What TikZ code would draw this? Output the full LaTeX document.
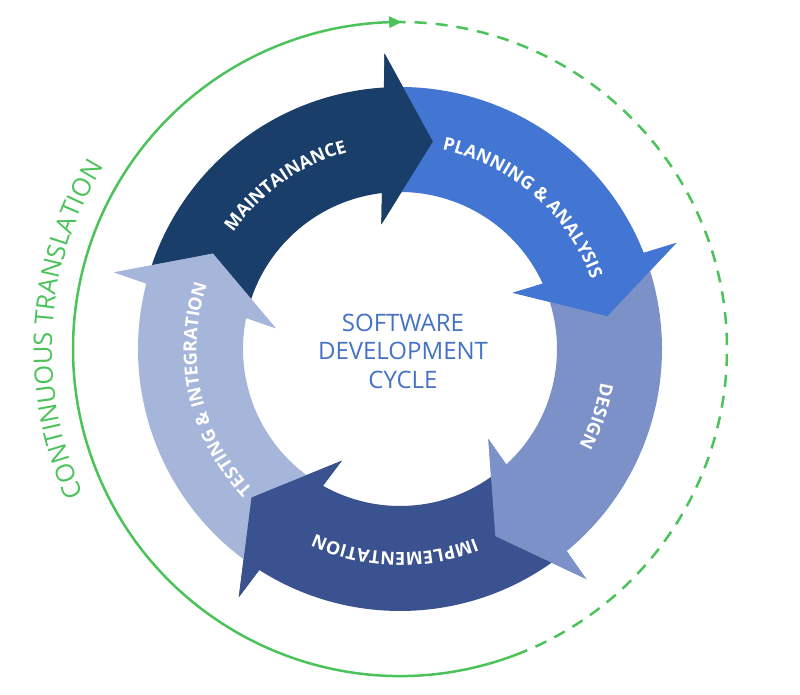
\documentclass[tikz,border=0pt]{standalone}
\usepackage{fontspec}
\setmainfont{Open Sans}
\usetikzlibrary{decorations.text}
\definecolor{cMaint}{HTML}{193E6A}
\definecolor{cPlan}{HTML}{4276D2}
\definecolor{cDesign}{HTML}{7B91C8}
\definecolor{cImpl}{HTML}{3A528F}
\definecolor{cTest}{HTML}{A6B5DA}
\definecolor{cCenter}{HTML}{4472C4}
\definecolor{cGreen}{HTML}{4CC35A}
% #1 = tip angle, #2 = colour
\newcommand{\cycArrow}[2]{%
  \fill[#2] ({#1+12}:296pt) -- (#1:210pt) -- ({#1+17.5}:126pt) -- ({#1+15.6}:157pt)
    arc[start angle={#1+15.6}, end angle={#1+82}, radius=157pt]
    -- ({#1+82}:262pt)
    arc[start angle={#1+82}, end angle={#1+12.5}, radius=262pt] -- cycle;}
\newcommand{\cycHead}[2]{%
  \fill[#2] ({#1+12}:296pt) -- (#1:210pt) -- ({#1+17.5}:126pt) -- cycle;}
% #1 = centre angle, #2 = text
\newcommand{\arcLabel}[2]{%
  \path[decorate, decoration={text along path, text align=center, text color=white,
    text={|\bfseries\fontsize{18pt}{18pt}\selectfont|#2}}]
    ({#1+70}:203.5pt) arc[start angle={#1+70}, end angle={#1-70}, radius=203.5pt];}
\begin{document}
\begin{tikzpicture}
\fill[white] (-400pt,-346pt) rectangle (400pt,349pt);
\useasboundingbox (-400pt,-346pt) rectangle (400pt,349pt);
\coordinate (O) at (0pt,0pt);
% outer green cycle
\draw[cGreen, line width=2.5pt] (291:327pt) arc[start angle=291, end angle=89, radius=327pt];
\draw[cGreen, line width=2.5pt, dash pattern=on 12pt off 9pt, dash phase=12pt]
  (89:327pt) arc[start angle=89, end angle=-69, radius=327pt];
\fill[cGreen] (89.7:327pt) -- (91.9:321pt) -- (91.9:333pt) -- cycle;
\path[decorate, decoration={text along path, text align=center, text color=cGreen,
  text={|\fontsize{25.5pt}{25.5pt}\selectfont|CONTINUOUS TRANSLATION}}]
  (246.5:348pt) arc[start angle=246.5, end angle=106.5, radius=348pt];
% arrows
\cycArrow{81}{cMaint}
\cycArrow{9}{cPlan}
\cycArrow{-63}{cDesign}
\cycArrow{-135}{cImpl}
\cycArrow{153}{cTest}
\cycHead{81}{cMaint}
\cycHead{9}{cPlan}
\cycHead{-63}{cDesign}
\cycHead{-135}{cImpl}
\cycHead{153}{cTest}
% labels
\arcLabel{125}{MAINTAINANCE}
\arcLabel{49}{PLANNING {\&} ANALYSIS}
\arcLabel{-19}{DESIGN}
\arcLabel{-91.5}{IMPLEMENTATION}
\arcLabel{192.5}{TESTING {\&} INTEGRATION}
\node[align=center, text=cCenter, font=\fontsize{24pt}{28.5pt}\selectfont] (title) at (3pt,-2pt)
  {SOFTWARE\\DEVELOPMENT\\CYCLE};
\end{tikzpicture}
\end{document}
